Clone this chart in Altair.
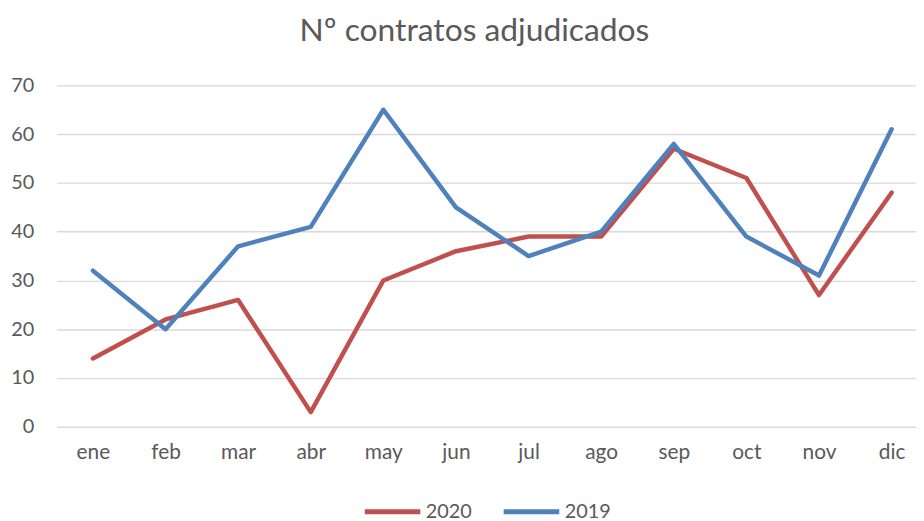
import altair as alt
import pandas as pd

months = ["ene", "feb", "mar", "abr", "may", "jun", "jul", "ago", "sep", "oct", "nov", "dic"]
s2020 = [14, 22, 26, 3, 30, 36, 39, 39, 57, 51, 27, 48]
s2019 = [32, 20, 37, 41, 65, 45, 35, 40, 58, 39, 31, 61]
series = ["2020", "2019"]
colors = ["#C0504D", "#4F81BD"]

rows = []
for i, m in enumerate(months):
    rows.append({"mes": m, "serie": "2020", "valor": s2020[i], "ord": 0})
for i, m in enumerate(months):
    rows.append({"mes": m, "serie": "2019", "valor": s2019[i], "ord": 1})
df = pd.DataFrame(rows)

FONT = "Lato"
GREY = "#595959"

chart = alt.Chart(df).mark_line(strokeWidth=4.5, strokeCap="round", strokeJoin="round").encode(
    x=alt.X("mes:N", sort=months, title=None,
            scale=alt.Scale(type="point", range=[0, 878], padding=0.5),
            axis=alt.Axis(labelAngle=0, domain=False, ticks=False, grid=False,
                          labelFontSize=21, labelColor=GREY, labelFont=FONT, labelPadding=15)),
    y=alt.Y("valor:Q", title=None,
            scale=alt.Scale(domain=[0, 70], nice=False),
            axis=alt.Axis(values=[0, 10, 20, 30, 40, 50, 60, 70], domain=False, ticks=False,
                          gridColor="#D9D9D9", gridWidth=1.5,
                          labelFontSize=20, labelColor=GREY, labelFont=FONT, labelPadding=23)),
    color=alt.Color("serie:N", sort=series,
                    scale=alt.Scale(domain=series, range=colors),
                    legend=alt.Legend(title=None, orient="none", direction="horizontal",
                                      legendX=308, legendY=399,
                                      symbolType="stroke", symbolSize=3136, symbolStrokeWidth=5,
                                      labelFontSize=20, labelColor=GREY, labelFont=FONT,
                                      columnPadding=21, labelOffset=3)),
    order=alt.Order("ord:Q"),
    detail="serie:N",
).properties(
    width=866,
    height=344,
    title=alt.TitleParams("Nº contratos adjudicados", fontSize=32, font=FONT, color=GREY,
                          fontWeight="normal", anchor="middle", dx=-12, offset=28),
    autosize=alt.AutoSizeParams(type="none"),
    padding={"left": 49, "top": 76, "right": 0, "bottom": 93},
).configure_view(stroke=None)

chart.save("out.html", embed_options={"renderer": "svg", "actions": False})
